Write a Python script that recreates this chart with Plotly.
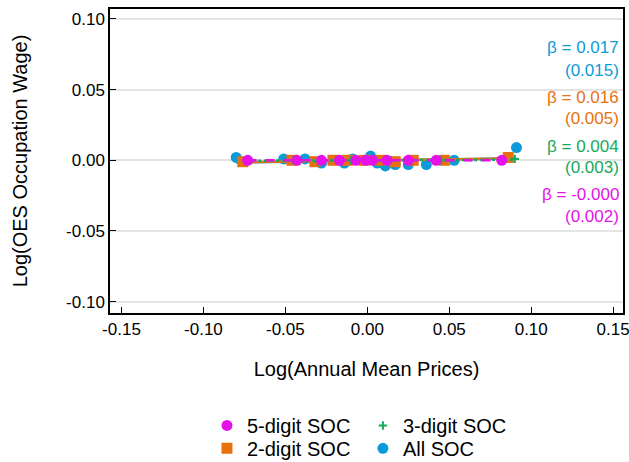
import numpy as np
import plotly.graph_objects as go

# Binned log deviations: x = log annual mean prices, y = log OES occupation wage
x_all = [-0.080, -0.051, -0.038, -0.028, -0.014, -0.009, 0.002, 0.006, 0.011, 0.017, 0.025, 0.036, 0.053, 0.091]
y_all = [0.002, 0.001, 0.001, -0.002, -0.002, 0.001, 0.003, -0.002, -0.004, -0.003, -0.003, -0.003, 0.000, 0.009]

x_2d = [-0.076, -0.046, -0.032, -0.021, -0.012, -0.002, 0.008, 0.017, 0.028, 0.047, 0.086]
y_2d = [-0.001, 0.000, -0.001, 0.000, 0.000, 0.000, 0.000, -0.001, 0.000, 0.000, 0.002]

x_3d = [-0.074, -0.045, -0.030, -0.019, -0.010, -0.001, 0.005, 0.014, 0.026, 0.045, 0.090]
y_3d = [0.000, 0.000, -0.001, 0.000, 0.000, 0.000, 0.000, 0.000, 0.000, 0.000, 0.001]

x_5d = [-0.073, -0.043, -0.028, -0.017, -0.007, -0.001, 0.003, 0.012, 0.025, 0.042, 0.082]
y_5d = [0.000, 0.000, 0.000, 0.000, 0.000, 0.000, 0.000, 0.000, 0.000, 0.000, 0.000]

# Estimated slopes and standard errors
beta = {"All SOC": 0.017, "2-digit SOC": 0.016, "3-digit SOC": 0.004, "5-digit SOC": -0.000}
se = {"All SOC": 0.015, "2-digit SOC": 0.005, "3-digit SOC": 0.003, "5-digit SOC": 0.002}

x_ticks = [-0.15, -0.10, -0.05, 0.00, 0.05, 0.10, 0.15]
y_ticks = [-0.10, -0.05, 0.00, 0.05, 0.10]

FONT = "Liberation Sans, Arial, sans-serif"

series = [
    # name, x, y, color, symbol, marker size, line dash, legend
    ("All SOC", x_all, y_all, "#0c9bd8", "circle", 11, "solid", "legend4"),
    ("2-digit SOC", x_2d, y_2d, "#e8700e", "square", 11, "solid", "legend2"),
    ("3-digit SOC", x_3d, y_3d, "#17a95a", "cross-thin", 6, "dashdot", "legend3"),
    ("5-digit SOC", x_5d, y_5d, "#e412e6", "circle", 11, "dash", "legend"),
]

fig = go.Figure()
for name, xs, ys, color, symbol, size, dash, leg in series:
    xs_a = np.array(xs)
    ys_a = np.array(ys)
    b = beta[name]
    a = ys_a.mean() - b * xs_a.mean()
    xl = np.array([xs_a.min(), xs_a.max()])
    fig.add_trace(go.Scatter(
        x=xl, y=a + b * xl, mode="lines",
        line=dict(color=color, width=2.5, dash=dash),
        showlegend=False, hoverinfo="skip",
    ))
    mk = dict(color=color, size=size, symbol=symbol)
    if symbol == "cross-thin":
        mk["line"] = dict(color=color, width=2)
    fig.add_trace(go.Scatter(
        x=xs, y=ys, mode="markers", name=name, marker=mk, legend=leg,
    ))

# Slope labels on the right
label_rows = [
    ("All SOC", "#0c9bd8", 0.0795, 0.0633),
    ("2-digit SOC", "#e8700e", 0.0442, 0.0293),
    ("3-digit SOC", "#17a95a", 0.0095, -0.0053),
    ("5-digit SOC", "#e412e6", -0.0244, -0.0399),
]
for name, color, yb, ys_ in label_rows:
    fig.add_annotation(xref="paper", yref="y", x=0.997, y=yb, xanchor="right", yanchor="middle",
                       text=f"β = {beta[name]:.3f}", showarrow=False,
                       font=dict(family=FONT, size=17, color=color))
    fig.add_annotation(xref="paper", yref="y", x=0.997, y=ys_, xanchor="right", yanchor="middle",
                       text=f"({se[name]:.3f})", showarrow=False,
                       font=dict(family=FONT, size=17, color=color))

leg_common = dict(font=dict(family=FONT, size=20, color="#000"), bgcolor="rgba(0,0,0,0)",
                  xanchor="left", yanchor="middle", itemwidth=30, tracegroupgap=0)

fig.update_layout(
    width=629, height=462,
    margin=dict(l=110, r=6, t=9, b=149, autoexpand=False),
    paper_bgcolor="white", plot_bgcolor="white",
    font=dict(family=FONT, size=17, color="#000"),
    legend=dict(x=0.189, y=-0.37, **leg_common),
    legend2=dict(x=0.189, y=-0.445, **leg_common),
    legend3=dict(x=0.493, y=-0.37, **leg_common),
    legend4=dict(x=0.493, y=-0.445, **leg_common),
    xaxis=dict(
        range=[-0.157, 0.156], tickvals=x_ticks, ticktext=[f"{v:.2f}" for v in x_ticks],
        ticks="inside", ticklen=6, tickcolor="#000", showgrid=False, zeroline=False,
        showline=True, linecolor="#000", linewidth=1.5, mirror=True,
        tickfont=dict(family=FONT, size=17), ticklabeloverflow="allow",
        title=dict(text="Log(Annual Mean Prices)", font=dict(family=FONT, size=20), standoff=24),
    ),
    yaxis=dict(
        range=[-0.108, 0.107], tickvals=y_ticks, ticktext=[f"{v:.2f}" for v in y_ticks],
        ticks="inside", ticklen=6, tickcolor="#000", showgrid=True, gridcolor="#e3e3e3", gridwidth=1.5,
        zeroline=False, showline=True, linecolor="#000", linewidth=1.5, mirror=True,
        tickfont=dict(family=FONT, size=17), ticklabeloverflow="allow",
        title=dict(text="Log(OES Occupation Wage)", font=dict(family=FONT, size=20), standoff=33),
    ),
)

fig.write_html("out.html")
